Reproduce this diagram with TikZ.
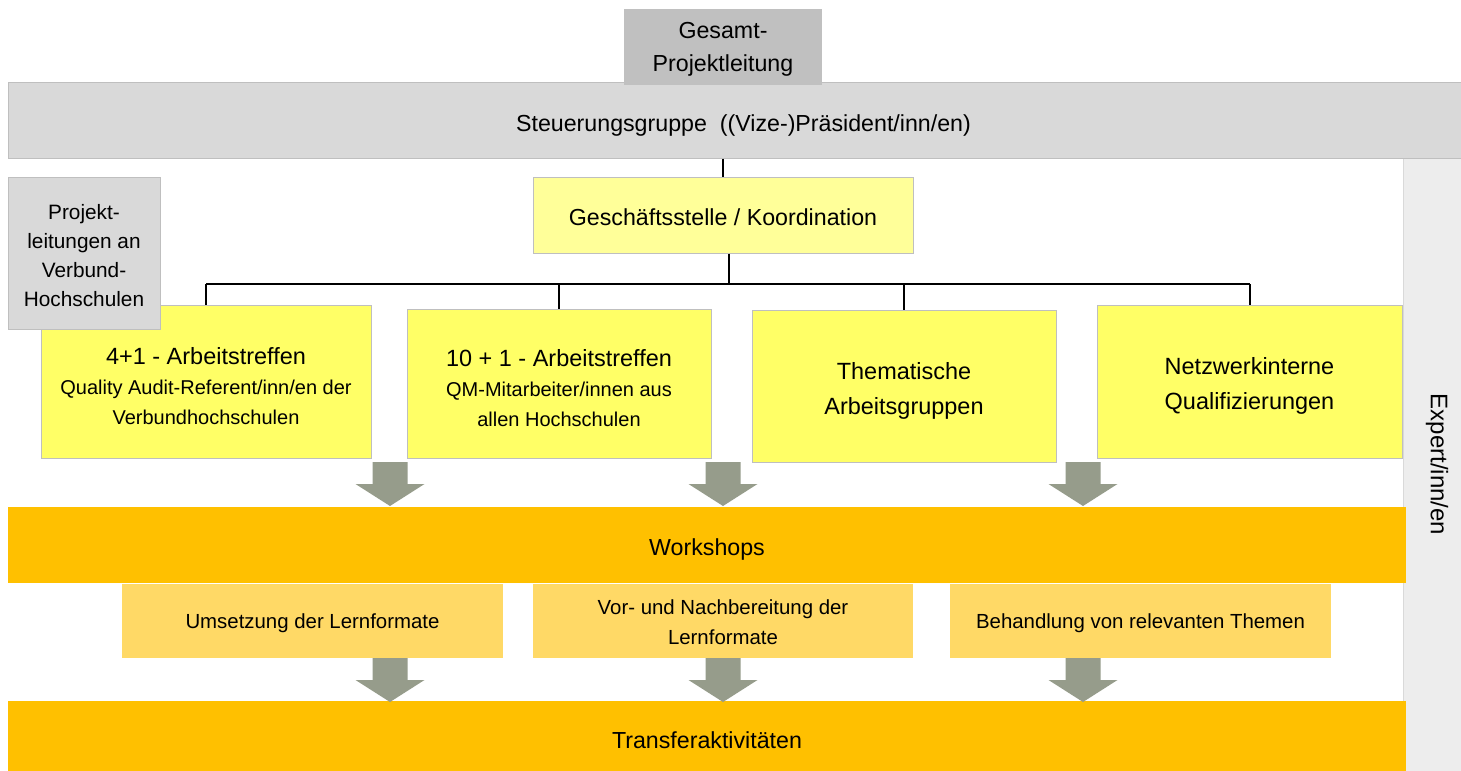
\documentclass[tikz,border=0pt]{standalone}
\usepackage{fontspec}
\setmainfont{Liberation Sans}
\newdimen\upx \upx=0.75pt
\newcommand{\dn}[2]{\raisebox{-#1\upx}[\height][\depth]{#2}}
\definecolor{bandgray}{HTML}{D9D9D9}
\definecolor{topgray}{HTML}{C0C0C0}
\definecolor{colgray}{HTML}{EDEDED}
\definecolor{ybox}{HTML}{FFFF66}
\definecolor{ylight}{HTML}{FFFF99}
\definecolor{subbox}{HTML}{FFD966}
\definecolor{bandorange}{HTML}{FFC000}
\definecolor{arrowgray}{HTML}{969C8B}
\definecolor{edge}{HTML}{BFBFBF}
\begin{document}
\begin{tikzpicture}[x=0.75pt,y=-0.75pt,
  base/.style={draw=edge, line width=0.75pt, inner sep=0pt, align=center, text=black},
  bigfont/.style={font=\fontsize{17.4}{24.75}\selectfont},
  midfont/.style={font=\fontsize{15.3}{22.5}\selectfont},
  graybox/.style={base, fill=topgray, bigfont},
  grayband/.style={base, fill=bandgray, bigfont},
  yelbox/.style={base, fill=ybox, font=\fontsize{17.6}{26.25}\selectfont},
  meetbox/.style={base, fill=ybox, font=\fontsize{15}{22.5}\selectfont},
  orangeband/.style={base, draw=none, fill=bandorange, bigfont},
  subfmt/.style={base, draw=none, fill=subbox, midfont},
  tree/.style={draw=black, line width=1.5pt},
  blockarrow/.pic={\fill[arrowgray] (-17.5,0) -- (17.5,0) -- (17.5,22) -- (34.5,22) -- (0,44) -- (-34.5,22) -- (-17.5,22) -- cycle;}
]
\useasboundingbox (0,0) rectangle (1461,771);
\fill[white] (0,0) rectangle (1461,771);

% expert column
\node[base, draw=bandgray, fill=colgray, rotate=-90, minimum width=613\upx, minimum height=58\upx, font=\fontsize{18}{24}\selectfont] (expert) at (1432,464.5) {\dn{-5}{Expert/inn/en}};

% top band and overall lead
\node[grayband, minimum width=1453\upx, minimum height=76\upx] (steuer) at (734.5,120) {\hspace*{18\upx}\dn{5.5}{Steuerungsgruppe\ \ ((Vize-)Präsident/inn/en)}};
\node[graybox, draw=none, minimum width=198\upx, minimum height=76\upx] (gesamt) at (723,47) {\dn{2.5}{Gesamt-}\\\dn{2.5}{Projektleitung}};

% coordination
\node[base, fill=ylight, bigfont, minimum width=380\upx, minimum height=76\upx] (gesch) at (723,215) {\dn{2.5}{Geschäftsstelle / Koordination}};

% four work boxes
\node[meetbox, minimum width=330\upx, minimum height=153\upx] (b1) at (206,381.5)
  {\dn{5}{\fontsize{17.6}{22.5}\selectfont 4+1 - Arbeitstreffen}\\\dn{5}{Quality Audit-Referent/inn/en der}\\\dn{5}{Verbundhochschulen}};
\node[meetbox, minimum width=304\upx, minimum height=149\upx] (b2) at (559,383.5)
  {\dn{5}{\fontsize{17.6}{22.5}\selectfont 10 + 1 - Arbeitstreffen}\\\dn{5}{QM-Mitarbeiter/innen aus}\\\dn{5}{allen Hochschulen}};
\node[yelbox, minimum width=304\upx, minimum height=152\upx] (b3) at (904,386) {\dn{4.5}{Thematische}\\\dn{4.5}{Arbeitsgruppen}};
\node[yelbox, minimum width=305\upx, minimum height=153\upx] (b4) at (1249.5,381.5) {\dn{4.5}{Netzwerkinterne}\\\dn{4.5}{Qualifizierungen}};

% project leads at partner universities
\node[base, fill=bandgray, font=\fontsize{15.6}{21.75}\selectfont, minimum width=152\upx, minimum height=152\upx] (projekt) at (84,253) {\dn{3}{Projekt-}\\\dn{3}{leitungen an}\\\dn{3}{Verbund-}\\\dn{3}{Hochschulen}};

% tree connectors
\coordinate (bus) at (729,284);
\draw[tree] (gesch.north |- steuer.south) -- (gesch.north);
\draw[tree] (gesch.south -| bus) -- (bus);
\draw[tree] (b1.north |- bus) -- (b4.north |- bus);
\draw[tree] (b1.north |- bus) -- (b1.north);
\draw[tree] (b2.north |- bus) -- (b2.north);
\draw[tree] (b3.north |- bus) -- (b3.north);
\draw[tree] (b4.north |- bus) -- (b4.north);

% bands
\node[orangeband, minimum width=1398\upx, minimum height=76\upx] (workshops) at (707,545) {\dn{4}{Workshops}};
\node[orangeband, minimum width=1398\upx, minimum height=70\upx] (transfer) at (707,736) {\dn{4}{Transferaktivitäten}};

% sub boxes
\node[subfmt, minimum width=381\upx, minimum height=74\upx] (s1) at (312.5,621) {\dn{2.5}{Umsetzung der Lernformate}};
\node[subfmt, minimum width=380\upx, minimum height=74\upx] (s2) at (723,621) {\dn{1}{Vor- und Nachbereitung der}\\\dn{1}{Lernformate}};
\node[subfmt, minimum width=381\upx, minimum height=74\upx] (s3) at (1140.5,621) {\dn{2.5}{Behandlung von relevanten Themen}};

% block arrows
\pic at (390,462) {blockarrow};
\pic at (723,462) {blockarrow};
\pic at (1083,462) {blockarrow};
\pic at (390,658) {blockarrow};
\pic at (723,658) {blockarrow};
\pic at (1083,658) {blockarrow};
\end{tikzpicture}
\end{document}
